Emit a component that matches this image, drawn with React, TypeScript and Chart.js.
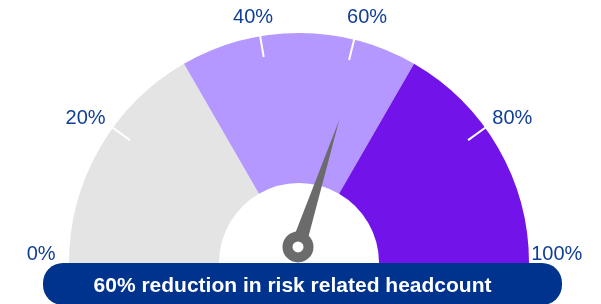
import React, { useEffect, useRef } from "react";
import { Chart, registerables } from "chart.js";

Chart.register(...registerables);

const segmentValues = [33.33, 33.34, 33.33];
const segmentColors = ["#E4E4E4", "#B497FF", "#7213EA"];
const tickPositions = [20, 44.6, 57.7, 80];
const labelTexts = ["0%", "20%", "40%", "60%", "80%", "100%"];
const labelPositions = [1.2, 19, 44.3, 58.5, 81, 98.8];
const needleValue = 60;
const caption = "60% reduction in risk related headcount";

const FONT = '"Liberation Sans", Arial, Helvetica, sans-serif';

const gaugePlugin = {
  id: "gaugeExtras",
  afterDatasetsDraw(chart: any) {
    const meta = chart.getDatasetMeta(0);
    const arc = meta.data[0];
    if (!arc) return;
    const cx = arc.x;
    const cy = arc.y;
    const R = arc.outerRadius;
    const ctx = chart.ctx;
    const ang = (v: number) => Math.PI + (v / 100) * Math.PI;

    // ticks
    ctx.save();
    ctx.strokeStyle = "#FFFFFF";
    ctx.lineWidth = 2;
    tickPositions.forEach((v) => {
      const a = ang(v);
      ctx.beginPath();
      ctx.moveTo(cx + Math.cos(a) * (R - 21), cy + Math.sin(a) * (R - 21));
      ctx.lineTo(cx + Math.cos(a) * (R + 1), cy + Math.sin(a) * (R + 1));
      ctx.stroke();
    });
    ctx.restore();

    // needle
    const px = cx - 1;
    const py = cy - R * 0.07;
    const na = ang(needleValue);
    const len = R * 0.58;
    const hw = 7.5;
    ctx.save();
    ctx.fillStyle = "#6B6B6B";
    ctx.beginPath();
    ctx.moveTo(px + Math.cos(na) * len, py + Math.sin(na) * len);
    ctx.lineTo(px + Math.cos(na + Math.PI / 2) * hw, py + Math.sin(na + Math.PI / 2) * hw);
    ctx.lineTo(px + Math.cos(na - Math.PI / 2) * hw, py + Math.sin(na - Math.PI / 2) * hw);
    ctx.closePath();
    ctx.fill();
    ctx.beginPath();
    ctx.arc(px, py, 15.5, 0, Math.PI * 2);
    ctx.fill();
    ctx.fillStyle = "#FFFFFF";
    ctx.beginPath();
    ctx.arc(px, py, 5.5, 0, Math.PI * 2);
    ctx.fill();
    ctx.restore();

    // caption pill
    const left = cx - R - 26;
    const right = cx + R + 33;
    const top = cy;
    const h = 42;
    const r = 20;
    ctx.save();
    ctx.fillStyle = "#00338D";
    ctx.beginPath();
    ctx.moveTo(left + r, top);
    ctx.lineTo(right - r, top);
    ctx.arcTo(right, top, right, top + r, r);
    ctx.lineTo(right, top + h - r);
    ctx.arcTo(right, top + h, right - r, top + h, r);
    ctx.lineTo(left + r, top + h);
    ctx.arcTo(left, top + h, left, top + h - r, r);
    ctx.lineTo(left, top + r);
    ctx.arcTo(left, top, left + r, top, r);
    ctx.closePath();
    ctx.fill();
    ctx.fillStyle = "#FFFFFF";
    ctx.font = `bold 21px ${FONT}`;
    ctx.textAlign = "center";
    ctx.textBaseline = "alphabetic";
    ctx.fillText(caption, cx - 6.5, top + 29);
    ctx.restore();

    // labels
    ctx.save();
    ctx.fillStyle = "#103E97";
    ctx.font = `20px ${FONT}`;
    ctx.textAlign = "center";
    ctx.textBaseline = "middle";
    const minY = cy - R - 15.5;
    labelTexts.forEach((t, i) => {
      const a = ang(labelPositions[i]);
      const lr = R + 28;
      const y = Math.max(cy + Math.sin(a) * lr + 1, minY);
      ctx.fillText(t, cx + Math.cos(a) * lr, y);
    });
    ctx.restore();
  },
};

export default function App() {
  const ref = useRef<HTMLCanvasElement | null>(null);
  useEffect(() => {
    if (!ref.current) return;
    const chart = new Chart(ref.current, {
      type: "doughnut",
      data: {
        labels: ["Low", "Medium", "High"],
        datasets: [
          {
            data: segmentValues,
            backgroundColor: segmentColors,
            borderWidth: 0,
          },
        ],
      },
      options: {
        responsive: true,
        maintainAspectRatio: false,
        animation: false,
        rotation: -90,
        circumference: 180,
        cutout: "34.8%",
        layout: { padding: { left: 69, right: 72, top: 33, bottom: 41 } },
        plugins: {
          legend: { display: false },
          tooltip: { enabled: false },
        },
        events: [],
      },
      plugins: [gaugePlugin],
    });
    return () => chart.destroy();
  }, []);
  return (
    <div style={{ position: "absolute", left: 0, top: 0, width: 601, height: 304, background: "#fff" }}>
      <canvas ref={ref} />
    </div>
  );
}
